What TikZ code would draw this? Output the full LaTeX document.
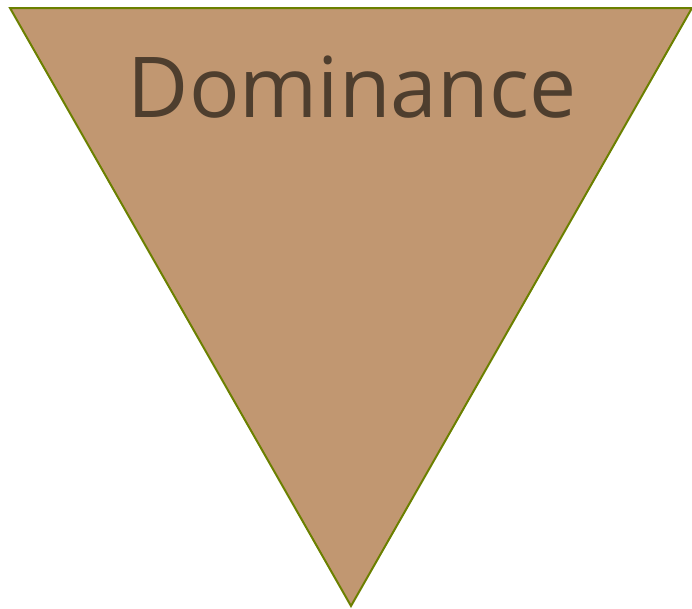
\documentclass[tikz,border=0pt]{standalone}
\usepackage{fontspec}
\setmainfont{Open Sans}
\usepackage{tikz}
\definecolor{domfill}{HTML}{C19771}
\definecolor{domedge}{HTML}{6B8000}
\definecolor{domink}{HTML}{4E3E2E}
\tikzset{
  tri/.style={draw=domedge, fill=domfill, line width=2pt, line join=miter},
  ttl/.style={font=\fontsize{84}{92}\selectfont, text=domink, inner sep=0pt},
}
\begin{document}
\begin{tikzpicture}[x=1pt, y=-1pt]
  \useasboundingbox (0,0) rectangle (692,608);
  \coordinate (tl) at (10,8);
  \coordinate (tr) at (692,8);
  \coordinate (bt) at (351,606);
  \draw[tri] (tl) -- (tr) -- (bt) -- cycle;
  \node[ttl, anchor=base] (title) at (352,117) {Dominance};
\end{tikzpicture}
\end{document}
